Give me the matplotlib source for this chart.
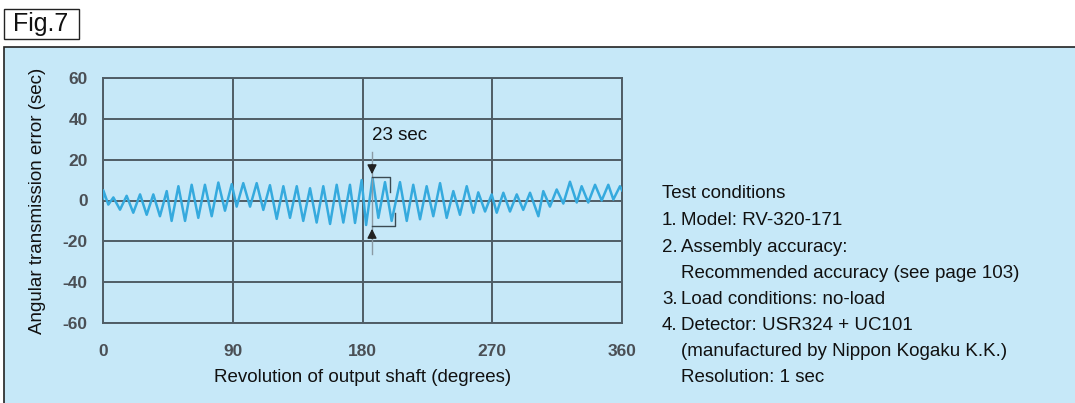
import matplotlib
matplotlib.use('Agg')
import matplotlib.pyplot as plt
from matplotlib.patches import Rectangle

plt.rcParams['font.family'] = ['Liberation Sans', 'DejaVu Sans']

angle = [0, 0.2, 3.7, 7.2, 11.8, 16.4, 21.0, 25.7, 30.3, 34.9, 39.5, 44.2, 47.6, 52.3,
         56.9, 61.5, 66.1, 70.7, 75.4, 80.0, 84.6, 89.3,
         92.7, 97.3, 102.0, 106.6, 111.2, 115.8, 120.5, 125.1, 129.7, 134.4, 138.9,
         143.6, 148.2, 152.8, 157.5, 162.1, 166.7, 171.3, 174.8, 179.4,
         182.5, 187.0, 191.0, 195.6, 200.2, 206.0, 210.7, 215.2, 219.9, 224.5, 229.1,
         233.8, 238.4, 243.0, 247.6, 252.3, 256.9, 260.3, 265.0, 269.6,
         273.1, 277.7, 282.3, 287.0, 291.5, 296.2, 302.0, 305.4, 310.0, 314.7, 319.3,
         323.9, 328.6, 332.0, 336.6, 341.3, 345.9, 350.5, 354.0, 358.6, 360]
error = [1, 5, -2, 1.5, -4.5, 2.3, -6, 3, -7, 3, -7.7, 4.6, -10, 7,
         -10, 7.7, -8.5, 7.7, -7.7, 8.8, -5, 8,
         -3, 8.5, -3, 8.5, -4.6, 7.5, -9, 7, -8.5, 7, -10,
         6, -10.8, 7, -11.5, 7.7, -10.8, 7.7, -11, 10,
         -12, 11, -8.5, 9, -10, 9, -10, 7.7, -9.2, 7, -7.7,
         8.5, -8.5, 4.6, -7, 7, -6, 4, -5.4, 3,
         -6, 3.8, -5.4, 3, -4.6, 3.8, -7.7, 4.6, -3, 5.4, -1.5,
         9.2, -1, 7, -1, 7.7, 0, 7.7, 0.5, 7, 5]

x_ticks = [0, 90, 180, 270, 360]
y_ticks = [-60, -40, -20, 0, 20, 40, 60]
y_tick_labels = ['-60', '-40', '-20', '0', '20', '40', '60']

conditions = [
    ('', 'Test conditions'),
    ('1.', 'Model: RV-320-171'),
    ('2.', 'Assembly accuracy:'),
    ('', 'Recommended accuracy (see page 103)'),
    ('3.', 'Load conditions: no-load'),
    ('4.', 'Detector: USR324 + UC101'),
    ('', '(manufactured by Nippon Kogaku K.K.)'),
    ('', 'Resolution: 1 sec'),
]

W, H = 1075, 403
panel_color = '#c6e8f8'
grid_color = '#4f5d66'
fs = 13.5

fig = plt.figure(figsize=(W / 100, H / 100), dpi=100)
fig.patch.set_facecolor('white')

# light blue panel and the "Fig.7" box
fig.patches.append(Rectangle((4 / W, -0.05), 1.1, 1 - 47 / H + 0.05, transform=fig.transFigure,
                             facecolor=panel_color, edgecolor='#222222', lw=1.2, zorder=-5))
fig.patches.append(Rectangle((4 / W, 1 - 39 / H), 75 / W, 30 / H, transform=fig.transFigure,
                             facecolor='white', edgecolor='#222222', lw=1.0, zorder=-5))
fig.text(41 / W, 1 - 24 / H, 'Fig.7', fontsize=18, ha='center', va='center', color='#111111')

ax = fig.add_axes([103 / W, 1 - 323 / H, 519 / W, 245 / H])
ax.set_zorder(2)
ax.patch.set_alpha(0)
ax.plot(angle, error, color='#35aade', lw=1.8, zorder=3)

ax.set_xlim(0, 360)
ax.set_ylim(-60, 60)
ax.set_xticks(x_ticks)
ax.set_yticks(y_ticks)
ax.set_yticklabels(y_tick_labels)
ax.tick_params(length=0, labelsize=12.5, labelcolor='#4a4f55')
ax.tick_params(axis='x', pad=15)
ax.tick_params(axis='y', pad=11)
for lab in ax.get_xticklabels() + ax.get_yticklabels():
    lab.set_fontweight('bold')
ax.grid(True, color=grid_color, lw=1.4)
for sp in ax.spines.values():
    sp.set_color(grid_color)
    sp.set_linewidth(1.4)

ax.set_xlabel('Revolution of output shaft (degrees)', fontsize=fs, labelpad=7, color='#111111')
ax.set_ylabel('Angular transmission error (sec)', fontsize=fs, labelpad=12, color='#111111')

# 23 sec dimension marker
xm = 186.6
ax.plot([xm, xm], [-26, 24], color='#8a9aa4', lw=1.0, zorder=4)
ax.annotate('', xy=(xm, 11.5), xytext=(xm, 19),
            arrowprops=dict(arrowstyle='-|>', color='#222222', lw=1.0, mutation_scale=14), zorder=5)
ax.annotate('', xy=(xm, -12.5), xytext=(xm, -20),
            arrowprops=dict(arrowstyle='-|>', color='#222222', lw=1.0, mutation_scale=14), zorder=5)
ax.plot([xm, 199, 199], [11.5, 11.5, 4], color='#3c4a52', lw=1.0, zorder=4)
ax.plot([xm, 202.5, 202.5], [-12.5, -12.5, -6], color='#3c4a52', lw=1.0, zorder=4)
ax.text(xm, 32, '23 sec', fontsize=fs, ha='left', va='center', color='#111111')

# test conditions text block
line_y = [193, 220, 247, 273, 299, 325, 352, 378]
for (num, txt), yy in zip(conditions, line_y):
    if txt == 'Test conditions':
        fig.text(662 / W, 1 - yy / H, txt, fontsize=fs, ha='left', va='center', color='#111111')
        continue
    if num:
        fig.text(662 / W, 1 - yy / H, num, fontsize=fs, ha='left', va='center', color='#111111')
    fig.text(681 / W, 1 - yy / H, txt, fontsize=fs, ha='left', va='center', color='#111111')

fig.savefig('out.png', dpi=100, facecolor=fig.get_facecolor())
